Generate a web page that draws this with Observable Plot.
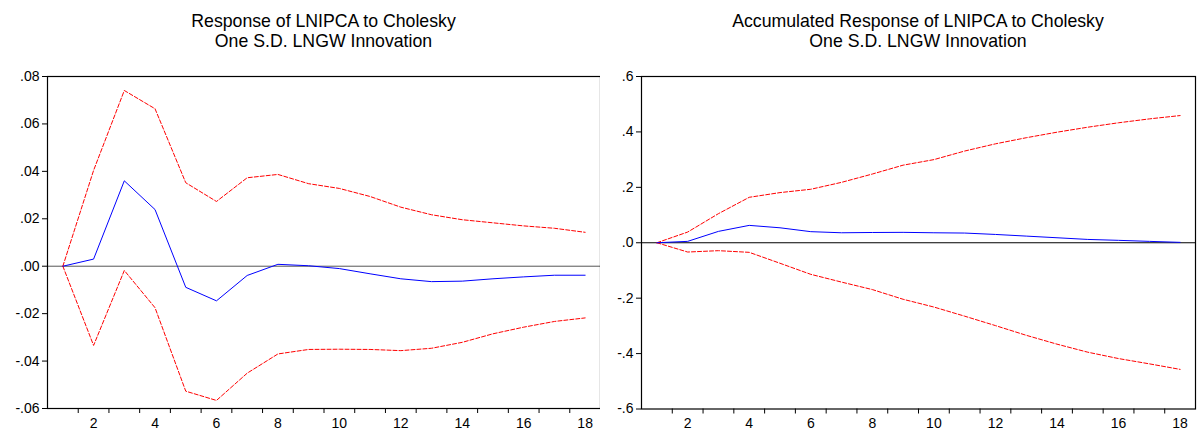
<!DOCTYPE html>
<html>
<head>
<meta charset="utf-8">
<script src="https://cdn.jsdelivr.net/npm/d3@7"></script>
<script src="https://cdn.jsdelivr.net/npm/@observablehq/plot@0.6"></script>
<style>
  html, body { margin: 0; padding: 0; background: #fff; }
  #wrap { position: relative; width: 1197px; height: 432px; overflow: hidden; font-family: "Liberation Sans", Arial, sans-serif; }
  .title { position: absolute; top: 10.6px; text-align: center; font-family: "Liberation Sans", Arial, sans-serif; font-size: 17.7px; line-height: 20.5px; color: #000; }
  .panel { position: absolute; top: 60px; }
</style>
</head>
<body>
<div id="wrap"></div>
<script>
const periods = [1,2,3,4,5,6,7,8,9,10,11,12,13,14,15,16,17,18];

const resp      = [0, 0.003, 0.036, 0.0239, -0.0089, -0.0146, -0.0039, 0.0008, 0.0002, -0.001, -0.0032, -0.0053, -0.0065, -0.0063, -0.0053, -0.0045, -0.0038, -0.0038];
const respUpper = [0, 0.0404, 0.0741, 0.0664, 0.0352, 0.0273, 0.0373, 0.0387, 0.0348, 0.0328, 0.0294, 0.0249, 0.0217, 0.0196, 0.0183, 0.0170, 0.0160, 0.0143];
const respLower = [0, -0.0334, -0.0018, -0.0175, -0.0527, -0.0566, -0.0451, -0.0370, -0.0351, -0.0350, -0.0351, -0.0356, -0.0346, -0.0321, -0.0285, -0.0257, -0.0233, -0.0218];

const acc      = [0, 0.005, 0.041, 0.0627, 0.054, 0.040, 0.036, 0.037, 0.0375, 0.036, 0.035, 0.030, 0.024, 0.018, 0.012, 0.0087, 0.005, 0.0014];
const accUpper = [0, 0.0386, 0.105, 0.164, 0.181, 0.193, 0.218, 0.248, 0.280, 0.300, 0.331, 0.357, 0.379, 0.399, 0.417, 0.433, 0.447, 0.459];
const accLower = [0, -0.0335, -0.0286, -0.0346, -0.074, -0.114, -0.142, -0.169, -0.204, -0.232, -0.265, -0.299, -0.334, -0.366, -0.395, -0.418, -0.437, -0.457];

const xLabels = [2,4,6,8,10,12,14,16,18];
const xTickMarks = [1.5,2.5,3.5,4.5,5.5,6.5,7.5,8.5,9.5,10.5,11.5,12.5,13.5,14.5,15.5,16.5,17.5];
const leftYTicks = [-0.06,-0.04,-0.02,0,0.02,0.04,0.06,0.08];
const rightYTicks = [-0.6,-0.4,-0.2,0,0.2,0.4,0.6];

const leftTitle = ["Response of LNIPCA to Cholesky", "One S.D. LNGW Innovation"];
const rightTitle = ["Accumulated Response of LNIPCA to Cholesky", "One S.D. LNGW Innovation"];

function stripZero(dec) {
  return d => {
    let s = Math.abs(d) < 1e-12 ? (0).toFixed(dec) : d.toFixed(dec);
    return s.replace(/^(-?)0\./, "$1.");
  };
}

function table(mid, up, lo) {
  const rows = [];
  periods.forEach((p, i) => {
    rows.push({p, v: mid[i], s: "mid"});
    rows.push({p, v: up[i], s: "up"});
    rows.push({p, v: lo[i], s: "lo"});
  });
  return rows;
}

function panel({left, width, mLeft, mRight, mBottom, domain, yTicks, dec, mid, up, lo, zeroColor, title}) {
  const data = table(mid, up, lo);
  const chart = Plot.plot({
    width, height: 372,
    marginLeft: mLeft, marginRight: mRight, marginTop: 16, marginBottom: mBottom,
    style: {fontFamily: '"Liberation Sans", Arial, sans-serif', fontSize: "14px", color: "#000", background: "#fff"},
    x: {domain: [0.5, 18.5]},
    y: {domain},
    marks: [
      Plot.ruleY([0], {stroke: zeroColor, strokeWidth: 1}),
      Plot.line(data.filter(d => d.s === "up"), {x: "p", y: "v", stroke: "#ff0000", strokeWidth: 1, strokeDasharray: "4,2"}),
      Plot.line(data.filter(d => d.s === "lo"), {x: "p", y: "v", stroke: "#ff0000", strokeWidth: 1, strokeDasharray: "4,2"}),
      Plot.line(data.filter(d => d.s === "mid"), {x: "p", y: "v", stroke: "#0000ff", strokeWidth: 1}),
      Plot.frame({stroke: "#000", strokeWidth: 1.2}),
      Plot.axisX(xTickMarks, {tickSize: 5, tickFormat: () => "", stroke: "#000", label: null}),
      Plot.axisX(xLabels, {tickSize: 0, tickPadding: 9.5, label: null, fill: "#000", fontSize: 14}),
      Plot.axisY(yTicks, {tickSize: 5, tickPadding: 3, tickFormat: stripZero(dec), label: null, stroke: "#000", fill: "#000"})
    ]
  });
  chart.classList.add("panel");
  chart.style.left = left + "px";
  document.getElementById("wrap").appendChild(chart);

  const t = document.createElement("div");
  t.className = "title";
  t.style.left = (left + mLeft) + "px";
  t.style.width = (width - mLeft - mRight) + "px";
  t.innerHTML = title.map(s => `<div>${s}</div>`).join("");
  document.getElementById("wrap").appendChild(t);
}

panel({left: 0, width: 605, mLeft: 47, mRight: 5, mBottom: 24, domain: [-0.06, 0.08], yTicks: leftYTicks, dec: 2,
       mid: resp, up: respUpper, lo: respLower, zeroColor: "#555", title: leftTitle});
panel({left: 600, width: 597, mLeft: 41, mRight: 2, mBottom: 23.5, domain: [-0.6, 0.6], yTicks: rightYTicks, dec: 1,
       mid: acc, up: accUpper, lo: accLower, zeroColor: "#000", title: rightTitle});
</script>
</body>
</html>
